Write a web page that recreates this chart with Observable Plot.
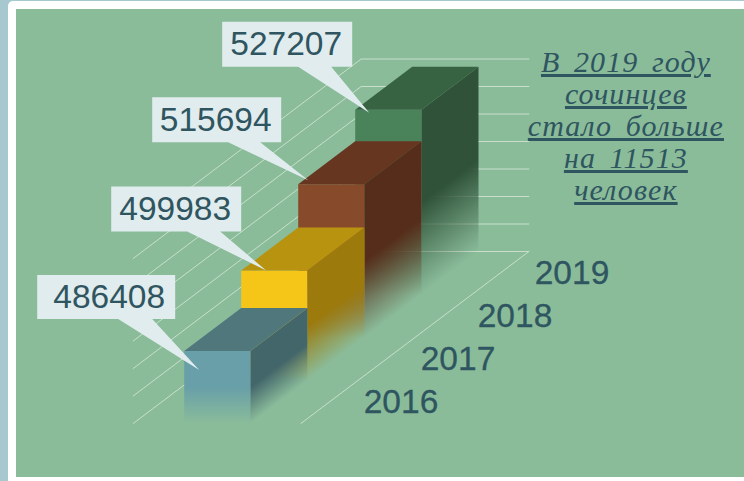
<!DOCTYPE html>
<html><head><meta charset="utf-8">
<script src="https://cdn.jsdelivr.net/npm/d3@7"></script>
<script src="https://cdn.jsdelivr.net/npm/@observablehq/plot@0.6"></script>
<style>
html,body{margin:0;padding:0;overflow:hidden;background:#fff}
#page{position:relative;width:744px;height:481px;background:#a8c8d0;overflow:hidden}
#white{position:absolute;left:8px;top:1px;right:0;bottom:0;background:#fff;border-top-left-radius:5px}
#panel{position:absolute;left:16px;top:9px;right:0;bottom:4px;background:#8abc9a}
#chart{position:absolute;left:0;top:0}
.note text{text-decoration:underline;text-decoration-thickness:1.5px;letter-spacing:1.1px;word-spacing:5px}
</style></head>
<body><div id="page"><div id="white"></div><div id="panel"></div><div id="chart"></div></div>
<script>
// Data
const years = [2016, 2017, 2018, 2019];
const population = [486408, 499983, 515694, 527207];
const labels = ["486408", "499983", "515694", "527207"];
const axisTicks = [460000, 470000, 480000, 490000, 500000, 510000, 520000, 530000];
const noteLines = ["В 2019 году", "сочинцев", "стало больше", "на 11513", "человек"];

// Styles
const frontColors = ["#689fa8", "#f5c518", "#874a2b", "#4a825a"];
const topColors = ["#50787c", "#b8930f", "#673620", "#386343"];
const sideColors = ["#43666b", "#9c7a0c", "#562d1a", "#2f5238"];
const textColor = "#2f5560";
const calloutFill = "#e1ecee";
const gridColor = "#c9dfcb";

// Oblique projection: across (bar widths), depth (categories), value
const baseValue = 460000;
const pxPerBar = 66.3, pxPerValue = 0.00275;
const originPx = [183.7, 423];
const depthX = 57 / pxPerBar, depthY = 43 / pxPerValue;
const W = 744, H = 481;
const pt = (across, depth, value) => ({x: across + depth * depthX, y: value + depth * depthY});
const floorLeft = -0.77, floorRight = 1.76, floorDepth = 4;
const shift = (p, dx, dy) => ({x: p.x + dx / pxPerBar, y: p.y - dy / pxPerValue});

// Callout layout, pixel offsets relative to each bar's front top-left corner
const calloutLayout = [
  {tip: [15, 19], box: [-162, -24, -95, -51], tail: [-81, -47], textShift: 3},
  {tip: [25, 0], box: [-155, -25, -84, -39], tail: [-79, -46], textShift: -1},
  {tip: [10, -4], box: [-156, -27, -83, -38], tail: [-80, -48], textShift: -1},
  {tip: [14, 3], box: [-147, -17, -91, -46], tail: [-71, -38], textShift: -1}
];

const marks = [];
const poly = (pts, fill) => Plot.line(pts, {x: "x", y: "y", fill, stroke: "none"});

// Grid
for (const v of axisTicks) {
  marks.push(Plot.line(
    [pt(floorLeft, 0, v), pt(floorLeft, floorDepth, v), pt(floorRight, floorDepth, v)],
    {x: "x", y: "y", stroke: gridColor, strokeWidth: 1}));
}
marks.push(Plot.line(
  [pt(floorRight, 0, baseValue), pt(floorRight, floorDepth, baseValue)],
  {x: "x", y: "y", stroke: gridColor, strokeWidth: 1}));

// Bars, back to front
for (let i = years.length - 1; i >= 0; i--) {
  const v = population[i];
  marks.push(poly([pt(0,i,baseValue), pt(1,i,baseValue), pt(1,i,v), pt(0,i,v)], `url(#front${i})`));
  marks.push(poly([pt(1,i,baseValue), pt(1,i+1,baseValue), pt(1,i+1,v), pt(1,i,v)], `url(#side${i})`));
  marks.push(poly([pt(0,i,v), pt(1,i,v), pt(1,i+1,v), pt(0,i+1,v)], topColors[i]));
}

// Callouts
years.forEach((yr, i) => {
  const L = calloutLayout[i], c = pt(0, i, population[i]);
  const [l, r, t, b] = L.box;
  const tip = L.tip;
  const at = (dx, dy) => shift(c, tip[0] + dx, tip[1] + dy);
  marks.push(poly([at(l,t), at(r,t), at(r,b), at(L.tail[1],b), at(0,0), at(L.tail[0],b), at(l,b)], calloutFill));
  const centre = at((l + r) / 2 + L.textShift, (t + b) / 2);
  marks.push(Plot.text([labels[i]], {x: centre.x, y: centre.y, text: d => d,
    fontFamily: "Liberation Sans", fontSize: 33.5, fill: textColor, textAnchor: "middle", lineAnchor: "middle"}));
});

// Depth axis labels
const axisAcross = 3.27, axisValue = 467640;
marks.push(Plot.text(years, {
  x: (d, i) => pt(axisAcross, i, axisValue).x,
  y: (d, i) => pt(axisAcross, i, axisValue).y,
  text: d => String(d), fontFamily: "Liberation Sans", fontSize: 33.5, fontWeight: 400,
  fill: textColor, stroke: textColor, strokeWidth: 0.3, textAnchor: "middle", lineAnchor: "middle"}));

// Note
const noteAnchor = shift(pt(floorRight, floorDepth, 530000), 97, 13);
marks.push(Plot.text(noteLines, {
  x: () => noteAnchor.x,
  y: (d, i) => noteAnchor.y - i * 32 / pxPerValue,
  text: d => d, fontFamily: "Liberation Serif", fontStyle: "italic", fontSize: 30,
  fill: textColor, textAnchor: "middle", lineAnchor: "bottom", className: "note"}));

const chart = Plot.plot({
  width: W, height: H, margin: 0,
  style: {background: "transparent", overflow: "visible"},
  x: {domain: [-originPx[0] / pxPerBar, (W - originPx[0]) / pxPerBar], range: [0, W], axis: null},
  y: {domain: [baseValue - (H - originPx[1]) / pxPerValue, baseValue + originPx[1] / pxPerValue], range: [H, 0], axis: null},
  marks
});

// Fading gradients, computed from the chart's scales
const sx = chart.scale("x"), sy = chart.scale("y");
const ns = "http://www.w3.org/2000/svg";
const defs = document.createElementNS(ns, "defs");
const grad = (id, color, a, b) => {
  const g = document.createElementNS(ns, "linearGradient");
  g.setAttribute("id", id);
  g.setAttribute("gradientUnits", "userSpaceOnUse");
  g.setAttribute("x1", a[0]); g.setAttribute("y1", a[1]);
  g.setAttribute("x2", b[0]); g.setAttribute("y2", b[1]);
  for (const [o, op] of [[0, 1], [1, 0]]) {
    const s = document.createElementNS(ns, "stop");
    s.setAttribute("offset", o); s.setAttribute("stop-color", color); s.setAttribute("stop-opacity", op);
    g.appendChild(s);
  }
  defs.appendChild(g);
};
const px = p => [sx.apply(p.x), sy.apply(p.y)];
population.forEach((v, i) => {
  const fa = px(pt(0, i, baseValue));
  const h = Math.abs(px(pt(0, i, v))[1] - fa[1]) * 0.5;
  grad(`front${i}`, frontColors[i], [fa[0], fa[1] - h], fa);
  const A = px(pt(1, i, baseValue)), B = px(pt(1, i + 1, baseValue));
  const ex = B[0] - A[0], ey = B[1] - A[1], len = Math.hypot(ex, ey);
  const nx = -ey / len, ny = ex / len;        // unit normal pointing down
  const dist = h * ny;
  grad(`side${i}`, sideColors[i], [A[0] - nx * dist, A[1] - ny * dist], A);
});
chart.insertBefore(defs, chart.firstChild);
document.getElementById("chart").appendChild(chart);
</script></body></html>
